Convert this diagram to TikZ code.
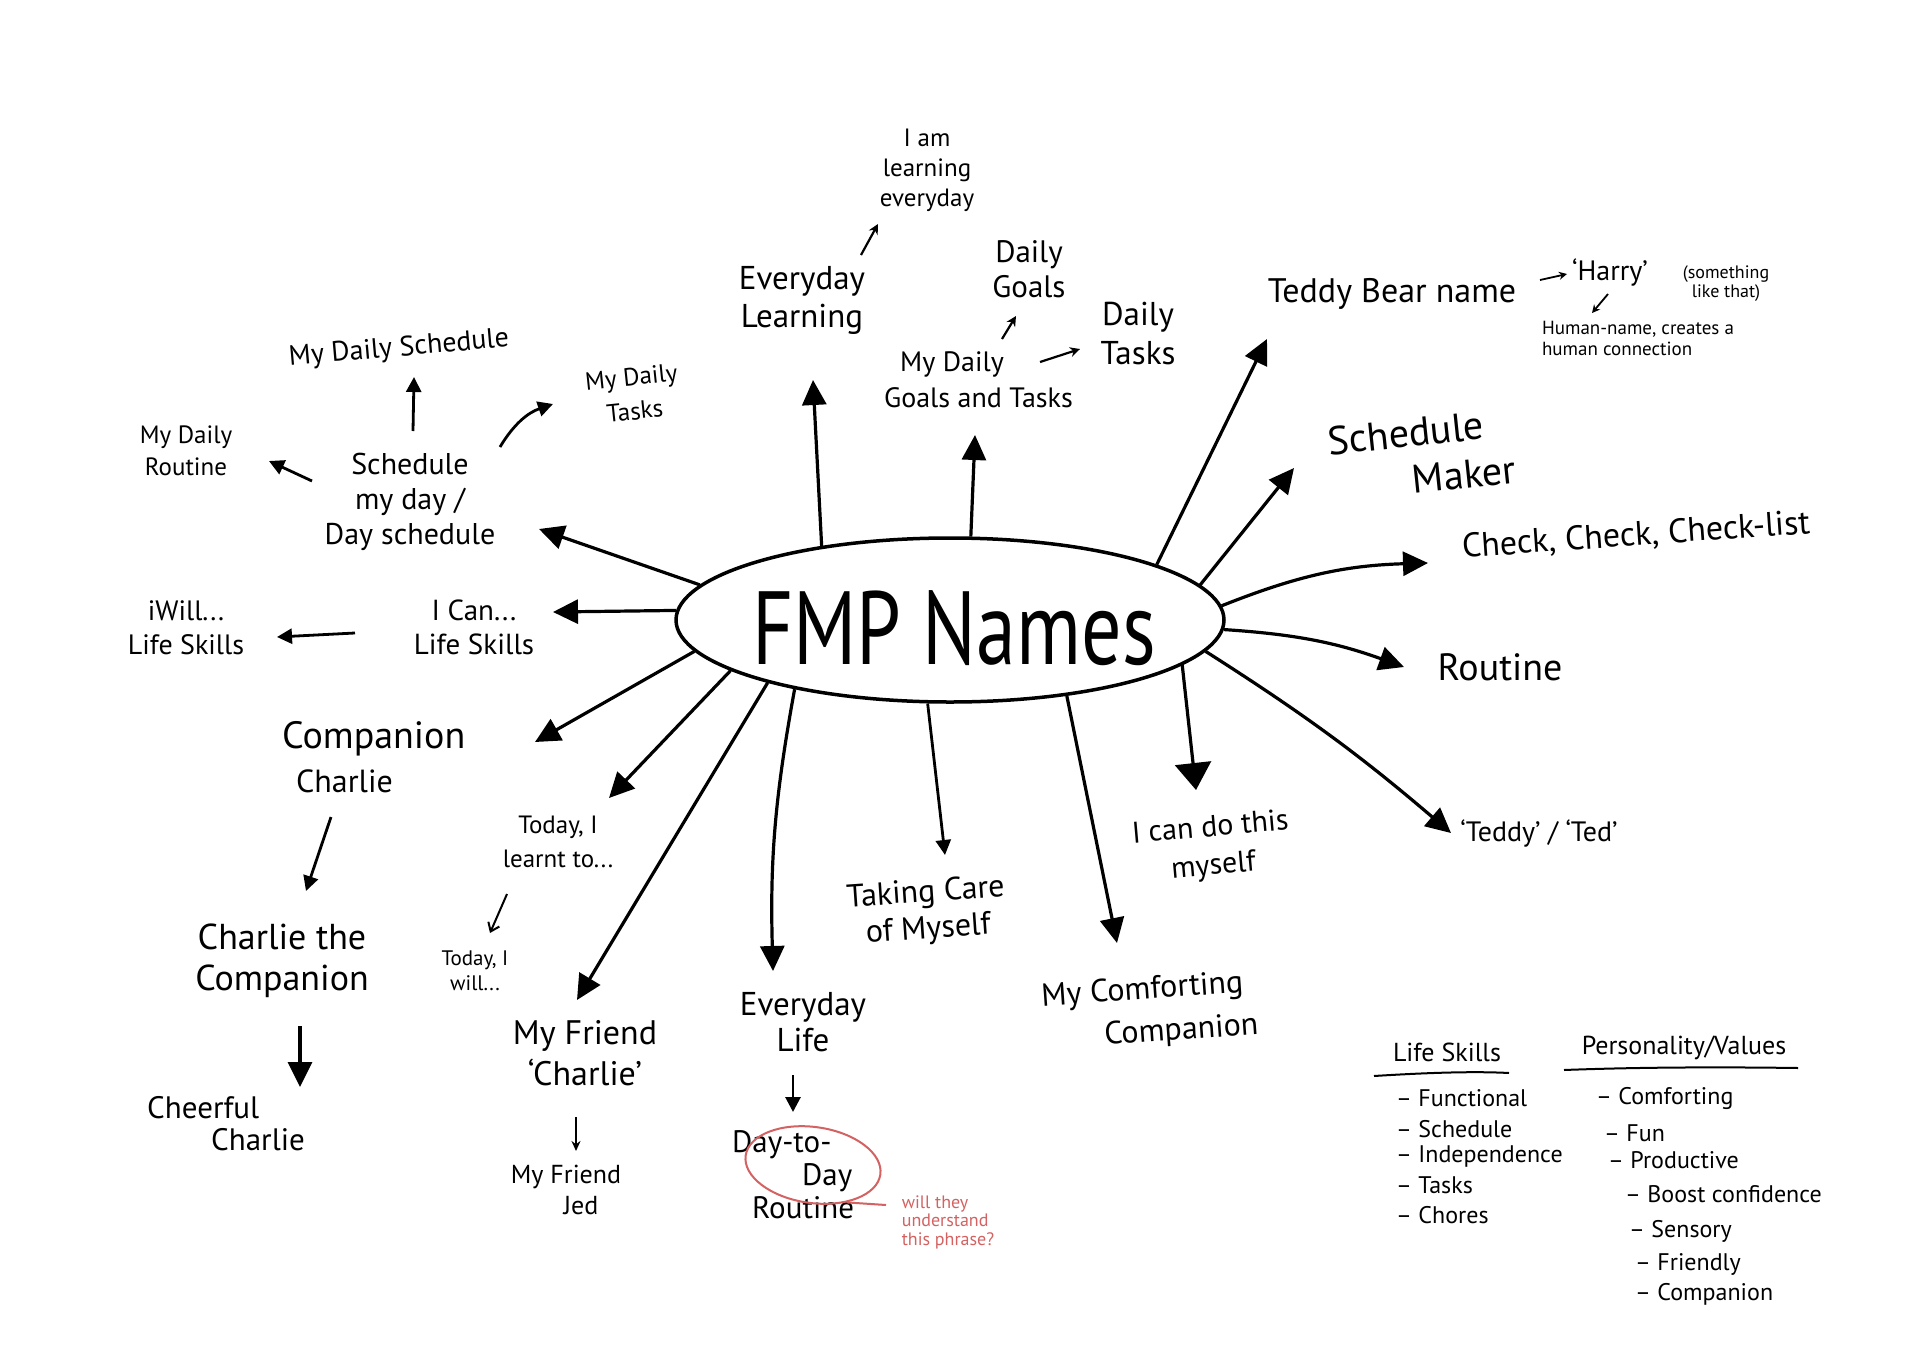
\documentclass[tikz,border=0pt]{standalone}
\usepackage{fontspec}
\setmainfont{PT Sans}
\usepackage{graphicx}
\usetikzlibrary{arrows.meta,shapes.geometric}
\definecolor{redc}{RGB}{212,98,98}
\newcommand\myfs[2]{\fontsize{#1}{#2}\selectfont}
\begin{document}
\begin{tikzpicture}[x=1pt,y=-1pt,
  lab/.style={align=center,inner sep=0pt},
  item/.style={anchor=west,inner sep=0pt,font=\myfs{24}{28}},
  arr/.style={line width=3.2pt,-{Triangle[length=25pt,width=24pt]}},
  arrbig/.style={line width=3.2pt,-{Triangle[length=27pt,width=36pt]}},
  arrs/.style={line width=2.8pt,-{Triangle[length=15pt,width=15pt]}},
  arrt/.style={line width=2.2pt,-{Stealth[length=10pt,width=10pt]}}]
\fill[white] (0,0) rectangle (1920,1357);
\useasboundingbox (0,0) rectangle (1920,1357);

% centre
\node[ellipse,draw,line width=3.5pt,minimum width=548pt,minimum height=164pt,inner sep=0pt] (c) at (950,620) {};
\node[inner sep=0pt,font=\myfs{80}{90}] (title) at (954,628) {\scalebox{1}[1.3]{FMP Names}};

% top
\node[lab,font=\myfs{25}{30}] (iam) at (927,170) {I am\\learning\\everyday};
\node[lab,font=\myfs{33}{38}] (evl) at (802,300) {Everyday\\Learning};
\node[lab,font=\myfs{31}{35}] (dg) at (1029,269) {Daily\\Goals};
\node[lab,font=\myfs{33}{39}] (dt) at (1138,334) {Daily\\Tasks};
\node[lab,font=\myfs{28}{36},align=left,anchor=west] (mdgt) at (884,380) {\hspace*{16pt}My Daily\\Goals and Tasks};

% right
\node[lab,font=\myfs{34}{38}] (tbn) at (1392,294) {Teddy Bear name};
\node[lab,font=\myfs{28}{32}] (harry) at (1610,272) {`Harry'};
\node[lab,font=\myfs{18}{19}] (st) at (1726,284) {(something\\like that)};
\node[lab,font=\myfs{19}{21},align=left] (hum) at (1638,338) {Human-name, creates a\\human connection};
\node[lab,font=\myfs{40}{47},align=left,rotate=6] (smk) at (1422,455) {Schedule\\\hspace*{80pt}Maker};
\node[lab,font=\myfs{34}{38},rotate=4] (chk) at (1636,536) {Check, Check, Check-list};
\node[lab,font=\myfs{38}{40}] (rtn) at (1500,667) {Routine};
\node[lab,font=\myfs{28}{32}] (ted) at (1539,833) {`Teddy' / `Ted'};
\node[lab,font=\myfs{30}{38},rotate=5] (ican) at (1212,848) {I can do this\\myself};
\node[lab,font=\myfs{32}{43},align=left,rotate=4] (mcc) at (1150,1012) {My Comforting\\\hspace*{60pt}Companion};

% bottom
\node[lab,font=\myfs{32}{37},rotate=4] (tcm) at (927,912) {Taking Care\\of Myself};
\node[lab,font=\myfs{33}{36}] (evlife) at (803,1022) {Everyday\\Life};
\node[lab,font=\myfs{31}{33},align=left,anchor=west] (dtd) at (732,1175) {Day-to-\\\hspace*{70pt}Day\\\hspace*{20pt}Routine};
\node[ellipse,draw=redc,line width=2pt,minimum width=136pt,minimum height=76pt,inner sep=0pt,rotate=-8] (rell) at (813,1165) {};
\node[lab,font=\myfs{18}{18.5},align=left,text=redc] (q) at (948,1222) {will they\\understand\\this phrase?};
\coordinate (rtail) at (886,1205);
\draw[redc,line width=2pt] (rell.-40) -- (rtail);

\node[lab,font=\myfs{34}{41}] (mfc) at (585,1053) {My Friend\\`Charlie'};
\node[lab,font=\myfs{26}{31}] (mfj) at (566,1190) {My Friend\\\hspace*{30pt}Jed};
\node[lab,font=\myfs{25}{34}] (tlt) at (558,842) {Today, I\\learnt to...};
\node[lab,font=\myfs{21}{25}] (twl) at (475,971) {Today, I\\will...};

% left
\node[lab,font=\myfs{38}{44},align=left,anchor=west] (cc) at (282,757) {Companion\\\hspace*{14pt}{\myfs{32}{44}Charlie}};
\node[lab,font=\myfs{36}{41}] (ctc) at (282,961) {Charlie the\\Companion};
\node[lab,font=\myfs{31}{32},align=left,anchor=west] (chc) at (147,1124) {Cheerful\\\hspace*{64pt}Charlie};
\node[lab,font=\myfs{29}{34}] (icn) at (474,627) {I Can...\\Life Skills};
\node[lab,font=\myfs{28}{34}] (iwl) at (186,628) {iWill...\\Life Skills};
\node[lab,font=\myfs{30}{35}] (smd) at (410,502) {Schedule\\my day /\\Day schedule};
\node[lab,font=\myfs{28}{30},rotate=5] (mds) at (399,349) {My Daily Schedule};
\node[lab,font=\myfs{25}{32}] (mdr) at (186,451) {My Daily\\Routine};
\node[lab,font=\myfs{25}{34},rotate=6] (mdt) at (633,394) {My Daily\\Tasks};

% legend
\node[lab,font=\myfs{26}{30}] (lsk) at (1447,1052) {Life Skills};
\draw[line width=2pt] ([xshift=-73pt,yshift=-24pt]lsk.center) .. controls ([xshift=-25pt,yshift=-21pt]lsk.center) and ([xshift=25pt,yshift=-19pt]lsk.center) .. ([xshift=62pt,yshift=-21pt]lsk.center);
\node[item] (l1) at (1396,1098) {– Functional};
\node[item] (l2) at (1396,1129) {– Schedule};
\node[item] (l3) at (1396,1156) {– Independence};
\node[item] (l4) at (1396,1185) {– Tasks};
\node[item] (l5) at (1396,1215) {– Chores};
\node[lab,font=\myfs{26}{30}] (pv) at (1684,1048) {Personality/Values};
\draw[line width=2pt] ([xshift=-120pt,yshift=-22pt]pv.center) .. controls ([xshift=-40pt,yshift=-19pt]pv.center) and ([xshift=40pt,yshift=-19pt]pv.center) .. ([xshift=114pt,yshift=-20pt]pv.center);
\node[item] (p1) at (1596,1098) {– Comforting};
\node[item] (p2) at (1604,1133) {– Fun};
\node[item] (p3) at (1608,1160) {– Productive};
\node[item] (p4) at (1625,1194) {– Boost confidence};
\node[item] (p5) at (1629,1231) {– Sensory};
\node[item] (p6) at (1635,1264) {– Friendly};
\node[item] (p7) at (1635,1294) {– Companion};

% main arrow tips
\coordinate (t1) at (813,380);
\coordinate (t2) at (975,435);
\coordinate (t3) at (1267,339);
\coordinate (t4) at (1294,468);
\coordinate (t5) at (1428,563);
\coordinate (t6) at (1404,667);
\coordinate (t7) at (1451,833);
\coordinate (t8) at (1196,790);
\coordinate (t9) at (1117,943);
\coordinate (t10) at (945,855);
\coordinate (t11) at (773,971);
\coordinate (t12) at (577,1000);
\coordinate (t13) at (609,798);
\coordinate (t14) at (535,742);
\coordinate (t15) at (553,612);
\coordinate (t16) at (539,529);

\draw[arr] (c.150) -- (t1);
\draw[arr] (c.76) -- (t2);
\draw[arr] (c.15) -- (t3);
\draw[arr] (c.8.6) -- (t4);
\draw[arr] (c.3.4) to[bend left=10] (t5);
\draw[arr] (c.-2.5) to[bend left=8] (t6);
\draw[arr] (c.-7) to[bend left=4] (t7);
\draw[arrbig] (c.-11.3) -- (t8);
\draw[arr] (c.-33.4) -- (t9);
\draw[arrs] (c.-105) -- (t10);
\draw[arr] (c.204.7) to[bend right=6] (t11);
\draw[arr] (c.199.5) -- (t12);
\draw[arr] (c.193) -- (t13);
\draw[arr] (c.187.6) -- (t14);
\draw[arr] (c.178.3) -- (t15);
\draw[arr] (c.172.4) -- (t16);

% secondary arrows
\coordinate (b1s) at (861,255);  \coordinate (b1e) at (878,224);
\coordinate (b2s) at (1002,339); \coordinate (b2e) at (1016,316);
\coordinate (b3s) at (1040,362); \coordinate (b3e) at (1080,349);
\coordinate (b4s) at (1540,280); \coordinate (b4e) at (1567,274);
\coordinate (b5s) at (1608,294); \coordinate (b5e) at (1592,313);
\coordinate (b6s) at (413,431);  \coordinate (b6e) at (414,377);
\coordinate (b7s) at (312,481);  \coordinate (b7e) at (269,461);
\coordinate (b8s) at (500,447);  \coordinate (b8e) at (553,404);
\coordinate (b9s) at (355,633);  \coordinate (b9e) at (277,637);
\coordinate (b10s) at (331,817); \coordinate (b10e) at (306,891);
\coordinate (b11s) at (300,1026); \coordinate (b11e) at (300,1087);
\coordinate (b12s) at (507,894); \coordinate (b12e) at (490,933);
\coordinate (b13s) at (576,1117); \coordinate (b13e) at (576,1151);
\coordinate (b14s) at (793,1075); \coordinate (b14e) at (793,1112);

\draw[arrt] (b1s) -- (b1e);
\draw[arrt] (b2s) -- (b2e);
\draw[arrt] (b3s) -- (b3e);
\draw[line width=1.8pt,-{Stealth[length=8pt,width=8pt]}] (b4s) -- (b4e);
\draw[line width=1.8pt,-{Stealth[length=8pt,width=8pt]}] (b5s) -- (b5e);
\draw[arrs] (b6s) -- (b6e);
\draw[arrs] (b7s) -- (b7e);
\draw[arrs] (b8s) to[bend left=20] (b8e);
\draw[arrs] (b9s) -- (b9e);
\draw[arrs] (b10s) -- (b10e);
\draw[arr] (b11s) -- (b11e);
\draw[line width=2pt,-{Straight Barb[length=8pt,width=12pt]}] (b12s) -- (b12e);
\draw[line width=2pt,-{Stealth[length=10pt,width=9pt]}] (b13s) -- (b13e);
\draw[arrs] (b14s) -- (b14e);
\end{tikzpicture}
\end{document}
